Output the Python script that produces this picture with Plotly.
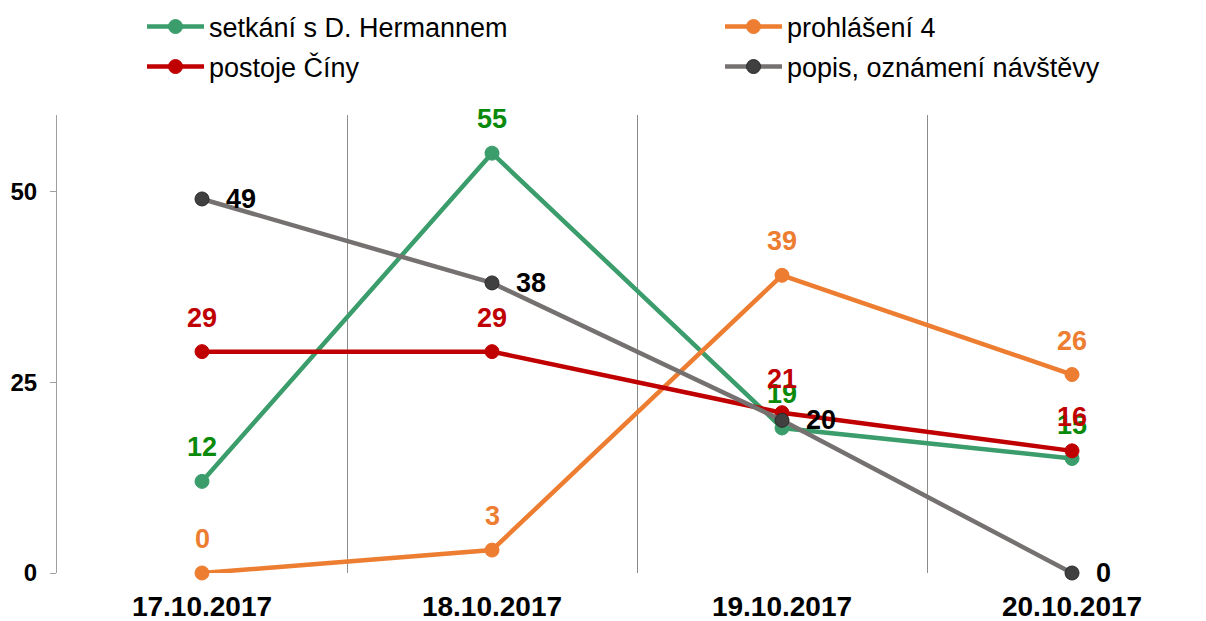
import plotly.graph_objects as go

categories = ["17.10.2017", "18.10.2017", "19.10.2017", "20.10.2017"]
series_names = ["setkání s D. Hermannem", "prohlášení 4", "postoje Číny", "popis, oznámení návštěvy"]
setkani = [12, 55, 19, 15]
prohlaseni = [0, 3, 39, 26]
postoje = [29, 29, 21, 16]
popis = [49, 38, 20, 0]
y_ticks = [0, 25, 50]

series_values = [setkani, prohlaseni, postoje, popis]
line_colors = ["#3A9D6B", "#ED7D31", "#C00000", "#767171"]
marker_colors = ["#3A9D6B", "#ED7D31", "#C00000", "#404040"]
label_colors = ["#0A8A0A", "#ED7D31", "#C00000", "#000000"]
legend_ids = ["legend", "legend2", "legend3", "legend4"]

FONT = "Liberation Sans, Arial, sans-serif"

fig = go.Figure()
for name, vals, lc, mc, lid in zip(series_names, series_values, line_colors, marker_colors, legend_ids):
    fig.add_trace(go.Scatter(
        x=categories, y=vals, name=name, mode="lines+markers",
        line=dict(color=lc, width=4.5),
        marker=dict(color=mc, size=14, line=dict(color=mc if mc != "#404040" else "#2a2a2a", width=1)),
        cliponaxis=False, legend=lid,
    ))

annotations = []
for i, (vals, tc) in enumerate(zip(series_values, label_colors)):
    for c, v in zip(categories, vals):
        if i == 3:
            annotations.append(dict(x=c, y=v, text=str(v), showarrow=False, xanchor="left", yanchor="middle",
                                    xshift=22, font=dict(family=FONT, size=27, color=tc, weight="bold")))
        else:
            annotations.append(dict(x=c, y=v, text=str(v), showarrow=False, xanchor="center", yanchor="middle",
                                    yshift=34, font=dict(family=FONT, size=27, color=tc, weight="bold")))

leg_common = dict(font=dict(family=FONT, size=27, color="#000000"), bgcolor="rgba(0,0,0,0)",
                  xref="container", yref="container", xanchor="left", yanchor="middle",
                  itemwidth=57, itemclick=False)
W, H = 1206, 621
legend_pos = [(134, 19), (712, 19), (134, 59), (712, 59)]
leg_layouts = {}
for lid, (px, py) in zip(legend_ids, legend_pos):
    leg_layouts[lid] = dict(leg_common, x=px / W, y=1 - py / H)

fig.update_layout(
    width=W, height=H,
    margin=dict(l=49, r=8, t=107, b=56, autoexpand=False),
    paper_bgcolor="white", plot_bgcolor="white",
    showlegend=True,
    annotations=annotations,
    xaxis=dict(type="category", range=[-0.5, 3.462], tickson="boundaries", showgrid=True,
               gridcolor="#8C8C8C", gridwidth=1, showline=False, zeroline=False, ticks="",
               tickangle=0, automargin=False,
               tickfont=dict(family=FONT, size=28, color="#000000", weight="bold"),
               ticklabelstandoff=14),
    yaxis=dict(range=[0, 60], tickvals=y_ticks, showgrid=False, zeroline=False, automargin=False,
               showline=True, linecolor="#A0A0A0", linewidth=1, ticks="outside", ticklen=6,
               tickcolor="#A0A0A0", tickfont=dict(family=FONT, size=24, color="#000000", weight="bold"),
               ticklabelstandoff=8),
    **leg_layouts,
)

fig.write_html("out.html")
